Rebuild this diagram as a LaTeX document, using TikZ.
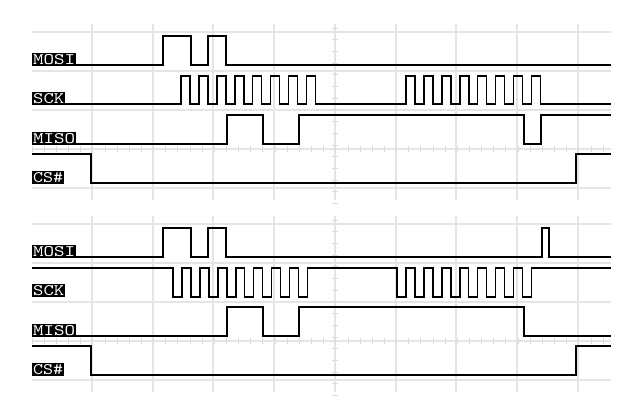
\documentclass[tikz,border=0pt]{standalone}
\usepackage{graphicx}
\begin{document}
\begin{tikzpicture}[x=1pt,y=-1pt,
  grid/.style={draw=black!10,line width=1.5pt},
  tick/.style={draw=black!14,line width=0.8pt},
  sig/.style={draw=black,line width=1.6pt},
  lab/.style={fill=black,text=white,inner xsep=1pt,inner ysep=1.5pt,anchor=south west,font=\ttfamily}]
\useasboundingbox (0,0) rectangle (640,403);
\fill[white] (0,0) rectangle (640,403);
% grids
\foreach \oy/\top/\bot in {0/24/200, 192/216/392}{
  \foreach \x in {92,153,213,274,335,396,456,517,578}
    \draw[grid] (\x,\top) -- (\x,\bot);
  \foreach \y in {32,71,110,149,188}
    \draw[grid] (32,\y+\oy) -- (611,\y+\oy);
  \foreach \i in {0,...,47}
    \draw[tick] ({32+12.15*\i},\oy+146) -- ({32+12.15*\i},\oy+152);
  \foreach \i in {0,...,15}
    \draw[tick] (332,{\top+4+11.7*\i}) -- (338,{\top+4+11.7*\i});
}
% ---- top panel ----
\draw[sig] (76,65) -- (163,65) -- (163,36) -- (191,36) -- (191,65) -- (208,65) -- (208,36) -- (226,36) -- (226,65) -- (611,65);
\draw[sig] (65,104) \foreach \i in {0,...,7}{ -- ({181+17.9*\i},104) -- ++(0,-28) -- ++(9,0) -- ++(0,28)}
  \foreach \i in {0,...,7}{ -- ({406+17.9*\i},104) -- ++(0,-28) -- ++(9,0) -- ++(0,28)} -- (611,104);
\draw[sig] (76,144) -- (227,144) -- (227,115) -- (263,115) -- (263,144) -- (299,144) -- (299,115) -- (524,115) -- (524,144) -- (541,144) -- (541,115) -- (611,115);
\draw[sig] (32,154) -- (91,154) -- (91,183) -- (576,183) -- (576,154) -- (611,154);
% ---- bottom panel ----
\draw[sig] (76,257) -- (163,257) -- (163,228) -- (191,228) -- (191,257) -- (208,257) -- (208,228) -- (226,228) -- (226,257) -- (542,257) -- (542,228) -- (549,228) -- (549,257) -- (611,257);
\draw[sig] (32,268) \foreach \i in {0,...,7}{ -- ({173+17.9*\i},268) -- ++(0,29) -- ++(9,0) -- ++(0,-29)}
  \foreach \i in {0,...,7}{ -- ({397+17.9*\i},268) -- ++(0,29) -- ++(9,0) -- ++(0,-29)} -- (611,268);
\draw[sig] (76,336) -- (227,336) -- (227,307) -- (263,307) -- (263,336) -- (299,336) -- (299,307) -- (524,307) -- (524,336) -- (611,336);
\draw[sig] (32,346) -- (91,346) -- (91,375) -- (576,375) -- (576,346) -- (611,346);
% labels
\foreach \oy/\n in {0/a,192/b}{
  \node[lab] (mosi\n) at (32,\oy+66) {\resizebox{42pt}{10pt}{MOSI}};
  \node[lab] (sck\n) at (32,\oy+105) {\resizebox{31pt}{10pt}{SCK}};
  \node[lab] (miso\n) at (32,\oy+145) {\resizebox{42pt}{10pt}{MISO}};
  \node[lab] (cs\n) at (32,\oy+184) {\resizebox{30pt}{10pt}{CS\#}};
}
\end{tikzpicture}
\end{document}
